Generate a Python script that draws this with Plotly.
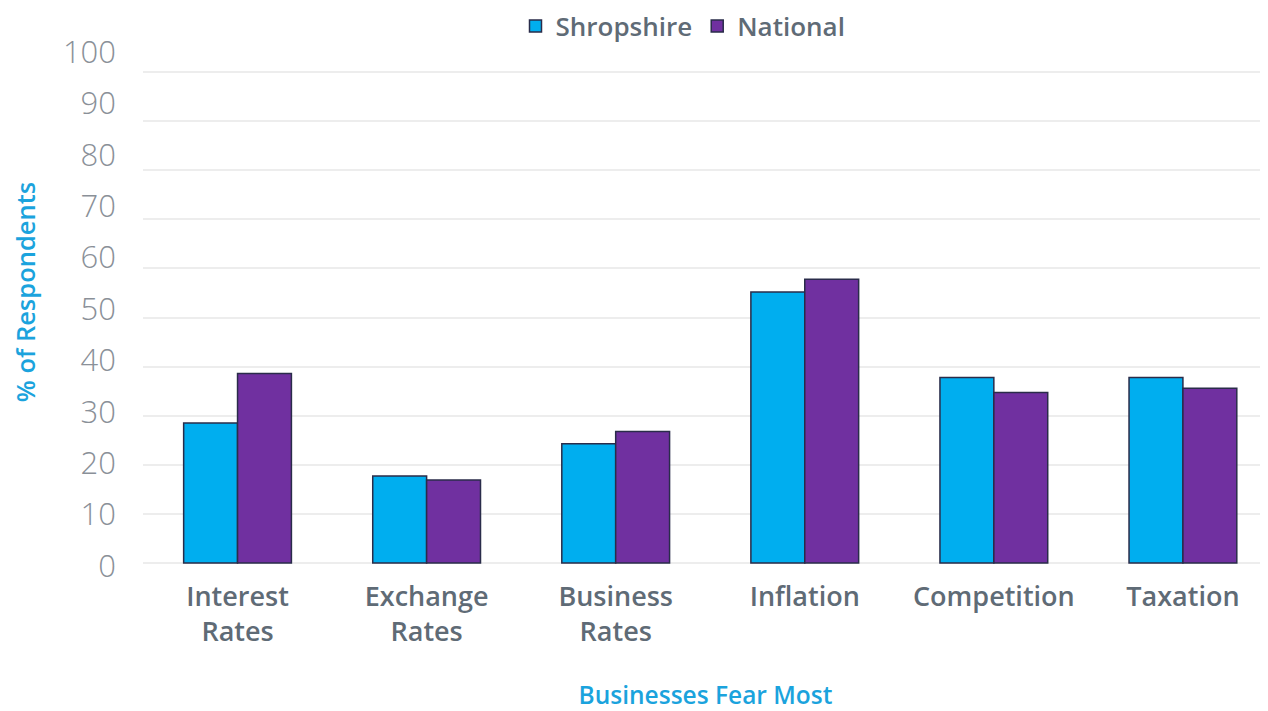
import plotly.graph_objects as go

categories = ["Interest<br>Rates", "Exchange<br>Rates", "Business<br>Rates", "Inflation", "Competition", "Taxation"]
shropshire = [28.5, 17.7, 24.3, 55.2, 37.8, 37.8]
national = [38.6, 16.9, 26.8, 57.8, 34.7, 35.6]
tick_vals = [0, 10, 20, 30, 40, 50, 60, 70, 80, 90, 100]
tick_text = [str(v) for v in tick_vals]

OFF = 8  # page body margin
W, H = 1268 - OFF, 711 - OFF
PLOT_L, PLOT_R = 143 - OFF, 1268 - OFF
PLOT_T, PLOT_B = 18 - OFF, 566 - OFF
# bar/grid axis: 0 at y=563, 100 at y=72 (screen)
g0, g100 = 563.0 - OFF, 72.0 - OFF
ppu1 = (g0 - g100) / 100
r1 = [-(PLOT_B - g0) / ppu1, (g0 - PLOT_T) / ppu1]
# label axis: 0 at y=566, 100 at y=52 (screen)
l0, l100 = 566.0 - OFF, 52.0 - OFF
ppu2 = (l0 - l100) / 100
r2 = [-(PLOT_B - l0) / ppu2, (l0 - PLOT_T) / ppu2]

FONT = "Open Sans"
TEXT = "#5f6b76"
BLUE = "#1ba3dd"
line = dict(color="#2a2c4a", width=1.5)

fig = go.Figure()
fig.add_trace(go.Bar(name="Shropshire", x=categories, y=shropshire,
                     marker=dict(color="#00AEEF", line=line)))
fig.add_trace(go.Bar(name="National", x=categories, y=national,
                     marker=dict(color="#7030A0", line=line)))
# empty helper trace so the label axis is drawn
fig.add_trace(go.Scatter(x=categories, y=[None] * len(categories), yaxis="y2",
                         showlegend=False, hoverinfo="skip", mode="markers"))

fig.update_layout(
    width=W, height=H,
    margin=dict(l=PLOT_L, r=W - PLOT_R, t=PLOT_T, b=H - PLOT_B, autoexpand=False),
    paper_bgcolor="white", plot_bgcolor="white",
    barmode="group", bargap=0.43, bargroupgap=0,
    font=dict(family=FONT),
    legend=dict(orientation="h", x=(683 - OFF - PLOT_L) / (PLOT_R - PLOT_L),
                xanchor="center", y=(PLOT_B - (26 - OFF)) / (PLOT_B - PLOT_T),
                yanchor="middle", bgcolor="rgba(0,0,0,0)",
                font=dict(size=26, color=TEXT, weight=600),
                itemwidth=30, traceorder="normal"),
    xaxis=dict(range=[-0.5, 5.45], showgrid=False, zeroline=False, showline=False,
               automargin=False,
               tickfont=dict(size=27, color=TEXT, weight=600),
               ticklabelstandoff=12,
               title=dict(text="Businesses Fear Most", standoff=52,
                          font=dict(size=24.5, color=BLUE, weight=600))),
    yaxis=dict(range=r1, tickvals=tick_vals, showticklabels=False, automargin=False,
               showgrid=True, gridcolor="#ededed", gridwidth=1.5, zeroline=False),
    yaxis2=dict(range=r2, overlaying="y", side="left", tickvals=tick_vals,
                ticktext=tick_text, showgrid=False, zeroline=False, automargin=False,
                tickfont=dict(size=31, color="#8a9098", weight=300),
                ticklabelstandoff=26,
                title=dict(text="% of Respondents", standoff=38,
                           font=dict(size=25.5, color=BLUE, weight=600))),
)

fig.write_html("out.html")
